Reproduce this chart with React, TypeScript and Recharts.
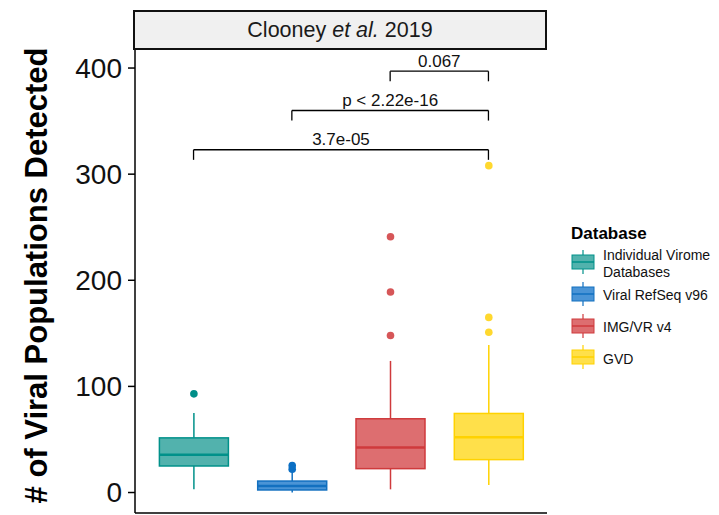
import { Bar, ComposedChart, ReferenceLine, XAxis, YAxis } from "recharts";

const FONT = '"Liberation Sans", Arial, sans-serif';

// groups (x axis categories)
const categories = ["Individual Virome Databases", "Viral RefSeq v96", "IMG/VR v4", "GVD"];
const legendLabels = [["Individual Virome", "Databases"], ["Viral RefSeq v96"], ["IMG/VR v4"], ["GVD"]];

// box statistics
const whiskerLow = [3, 0, 3, 7];
const q1Values = [25, 2.4, 22.5, 31];
const medians = [35.5, 6.2, 42.5, 52];
const q3Values = [51.5, 10.8, 69.5, 74.5];
const whiskerHigh = [75, 19, 124, 139];
const outliers = [[93], [22, 25.5], [148, 189, 241], [151, 165, 308]];

const yTicks = [0, 100, 200, 300, 400];

// significance brackets (compared against GVD)
const bracketFrom = ["IMG/VR v4", "Viral RefSeq v96", "Individual Virome Databases"];
const bracketTo = ["GVD", "GVD", "GVD"];
const bracketY = [397, 360, 323];
const bracketLabels = ["0.067", "p < 2.22e-16", "3.7e-05"];
const TIP = 9.5;

const fills = ["#52B2AD", "#4A94D6", "#DD6E70", "#FFE04A"];
const strokes = ["#00918A", "#1270C0", "#CF3A3C", "#FFD200"];
const dotColors = ["#008E88", "#0B6FC4", "#D65658", "#FFD82E"];

const rows = categories.map((name, i) => ({
  name,
  range: [Math.min(whiskerLow[i], ...outliers[i]), Math.max(whiskerHigh[i], ...outliers[i])],
  low: whiskerLow[i],
  q1: q1Values[i],
  median: medians[i],
  q3: q3Values[i],
  high: whiskerHigh[i],
  outliers: outliers[i],
}));

// draws one box from the bar geometry that recharts computed for the full range
function BoxShape(props: any) {
  const { x, y, width, height, payload, index } = props;
  if (!payload) return null;
  const [lo, hi] = payload.range;
  const top = Math.min(y, y + height);
  const bottom = Math.max(y, y + height);
  const py = (v: number) => bottom - ((v - lo) / (hi - lo)) * (bottom - top);
  const cx = x + width / 2;
  const stroke = strokes[index];
  return (
    <g>
      <line x1={cx} x2={cx} y1={py(payload.high)} y2={py(payload.q3)} stroke={stroke} strokeWidth={1.5} />
      <line x1={cx} x2={cx} y1={py(payload.q1)} y2={py(payload.low)} stroke={stroke} strokeWidth={1.5} />
      <rect
        x={x}
        y={py(payload.q3)}
        width={width}
        height={py(payload.q1) - py(payload.q3)}
        fill={fills[index]}
        stroke={stroke}
        strokeWidth={1.5}
      />
      <line x1={x} x2={x + width} y1={py(payload.median)} y2={py(payload.median)} stroke={stroke} strokeWidth={2.5} />
      {payload.outliers.map((o: number, k: number) => (
        <circle key={k} cx={cx} cy={py(o)} r={3.8} fill={dotColors[index]} />
      ))}
    </g>
  );
}

function LegendKey({ i }: { i: number }) {
  return (
    <svg width={24} height={26} style={{ display: "block" }}>
      <line x1={12} x2={12} y1={1} y2={25} stroke={strokes[i]} strokeWidth={1.2} />
      <rect x={1} y={6} width={22} height={14} fill={fills[i]} stroke={strokes[i]} strokeWidth={1} />
      <line x1={1} x2={23} y1={13} y2={13} stroke={strokes[i]} strokeWidth={1.5} />
    </svg>
  );
}

export default function App() {
  return (
    <div style={{ position: "absolute", left: 0, top: 0, width: 719, height: 515, background: "#fff", fontFamily: FONT }}>
      <ComposedChart width={719} height={515} data={rows} margin={{ top: 50, right: 172, bottom: 0, left: 0 }}>
        <XAxis
          dataKey="name"
          type="category"
          tick={false}
          tickLine={false}
          height={2}
          padding={{ left: 9.4, right: 9.4 }}
          axisLine={{ stroke: "#000", strokeWidth: 1.5 }}
        />
        <YAxis
          type="number"
          domain={[-19.3, 417]}
          allowDataOverflow
          ticks={yTicks}
          width={135}
          tickSize={7}
          tickMargin={6}
          axisLine={{ stroke: "#000", strokeWidth: 1.5 }}
          tickLine={{ stroke: "#000", strokeWidth: 1.5 }}
          tick={{ fontSize: 28, fill: "#111", fontFamily: FONT }}
          label={{
            content: (p: any) => {
              const vb = p.viewBox || { x: 0, y: 50, width: 135, height: 463 };
              const lx = vb.x + 47;
              const ly = vb.y + vb.height / 2 - 6;
              return (
                <text
                  x={lx}
                  y={ly}
                  transform={`rotate(-90, ${lx}, ${ly})`}
                  textAnchor="middle"
                  fontSize={31}
                  fontWeight="bold"
                  fontFamily={FONT}
                  fill="#000"
                >
                  # of Viral Populations Detected
                </text>
              );
            },
          }}
        />
        <Bar dataKey="range" barSize={69} shape={BoxShape} isAnimationActive={false} />
        {bracketLabels.map((lab, i) => (
          <ReferenceLine
            key={`h${i}`}
            segment={[
              { x: bracketFrom[i], y: bracketY[i] },
              { x: bracketTo[i], y: bracketY[i] },
            ]}
            stroke="#000"
            strokeWidth={1.3}
            label={{ value: lab, position: "top", offset: 4.5, fontSize: 17, fill: "#111", fontFamily: FONT }}
          />
        ))}
        {bracketLabels.map((_, i) => (
          <ReferenceLine
            key={`l${i}`}
            segment={[
              { x: bracketFrom[i], y: bracketY[i] },
              { x: bracketFrom[i], y: bracketY[i] - TIP },
            ]}
            stroke="#000"
            strokeWidth={1.3}
          />
        ))}
        {bracketLabels.map((_, i) => (
          <ReferenceLine
            key={`r${i}`}
            segment={[
              { x: bracketTo[i], y: bracketY[i] },
              { x: bracketTo[i], y: bracketY[i] - TIP },
            ]}
            stroke="#000"
            strokeWidth={1.3}
          />
        ))}
      </ComposedChart>

      {/* facet strip */}
      <div
        style={{
          position: "absolute",
          left: 133,
          top: 10,
          width: 414,
          height: 40,
          boxSizing: "border-box",
          border: "2px solid #111",
          background: "#F0F0F0",
          display: "flex",
          alignItems: "center",
          justifyContent: "center",
          fontSize: 21.5,
          color: "#1a1a1a",
        }}
      >
        <span>
          Clooney <i>et al.</i> 2019
        </span>
      </div>

      {/* legend */}
      <div style={{ position: "absolute", left: 571, top: 224.6, lineHeight: "17px", fontSize: 17, fontWeight: "bold", color: "#000" }}>
        Database
      </div>
      <div style={{ position: "absolute", left: 571, top: 248, display: "flex", flexDirection: "column" }}>
        {categories.map((c, i) => (
          <div key={c} style={{ height: 31.7, display: "flex", alignItems: "center" }}>
            <div style={{ marginTop: -3 }}>
              <LegendKey i={i} />
            </div>
            <div style={{ marginLeft: 8, fontSize: 14, lineHeight: "16.5px", color: "#111" }}>
              {legendLabels[i].map((t) => (
                <div key={t}>{t}</div>
              ))}
            </div>
          </div>
        ))}
      </div>
    </div>
  );
}
